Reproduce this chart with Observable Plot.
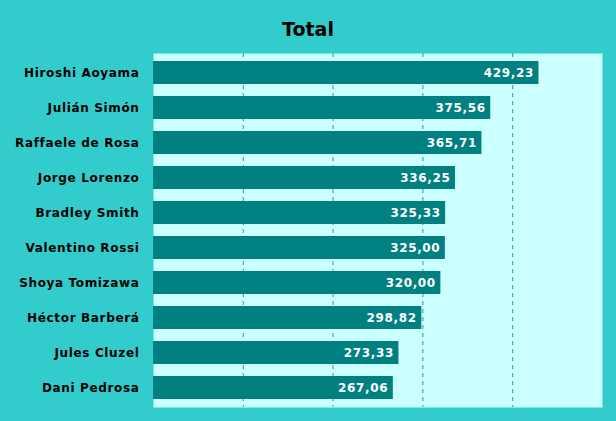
<!DOCTYPE html>
<html>
<head>
<meta charset="utf-8">
<script src="https://cdn.jsdelivr.net/npm/d3@7"></script>
<script src="https://cdn.jsdelivr.net/npm/@observablehq/plot@0.6"></script>
<style>
  html, body { margin: 0; padding: 0; background: #33cccc; width: 616px; height: 421px; overflow: hidden; }
  #title { height: 48px; line-height: 58px; text-align: center; font-family: "DejaVu Sans", sans-serif; font-weight: bold; font-size: 19px; color: #000; }
  svg { display: block; }
  svg text { letter-spacing: 0.65px; }
</style>
</head>
<body>
<div id="title">Total</div>
<div id="chart"></div>
<script>
const riders = ["Hiroshi Aoyama", "Julián Simón", "Raffaele de Rosa", "Jorge Lorenzo", "Bradley Smith", "Valentino Rossi", "Shoya Tomizawa", "Héctor Barberá", "Jules Cluzel", "Dani Pedrosa"];
const totals = [429.23, 375.56, 365.71, 336.25, 325.33, 325.00, 320.00, 298.82, 273.33, 267.06];
const gridTicks = [100, 200, 300, 400];

const data = riders.map((name, i) => ({name, total: totals[i]}));
const fmt = v => v.toFixed(2).replace(".", ",");

const chart = Plot.plot({
  width: 616,
  height: 373,
  marginTop: 5,
  marginBottom: 14,
  marginLeft: 153,
  marginRight: 14,
  style: {background: "#33cccc", fontFamily: "DejaVu Sans, sans-serif", fontSize: "12px", fontWeight: "bold", color: "#000"},
  x: {domain: [0, 500], axis: null},
  y: {domain: riders, paddingInner: 0.34, paddingOuter: 0.17, label: null, tickSize: 0, tickPadding: 14},
  marks: [
    Plot.frame({fill: "#ccffff", stroke: null}),
    Plot.ruleX(gridTicks, {stroke: "#2a9a9a", strokeDasharray: "4,4", strokeWidth: 1}),
    Plot.barX(data, {x: "total", y: "name", fill: "#008080"}),
    Plot.text(data, {x: "total", y: "name", text: d => fmt(d.total), textAnchor: "end", dx: -5, fill: "white", fontWeight: "bold", fontSize: 12})
  ]
});
document.getElementById("chart").appendChild(chart);
</script>
</body>
</html>
